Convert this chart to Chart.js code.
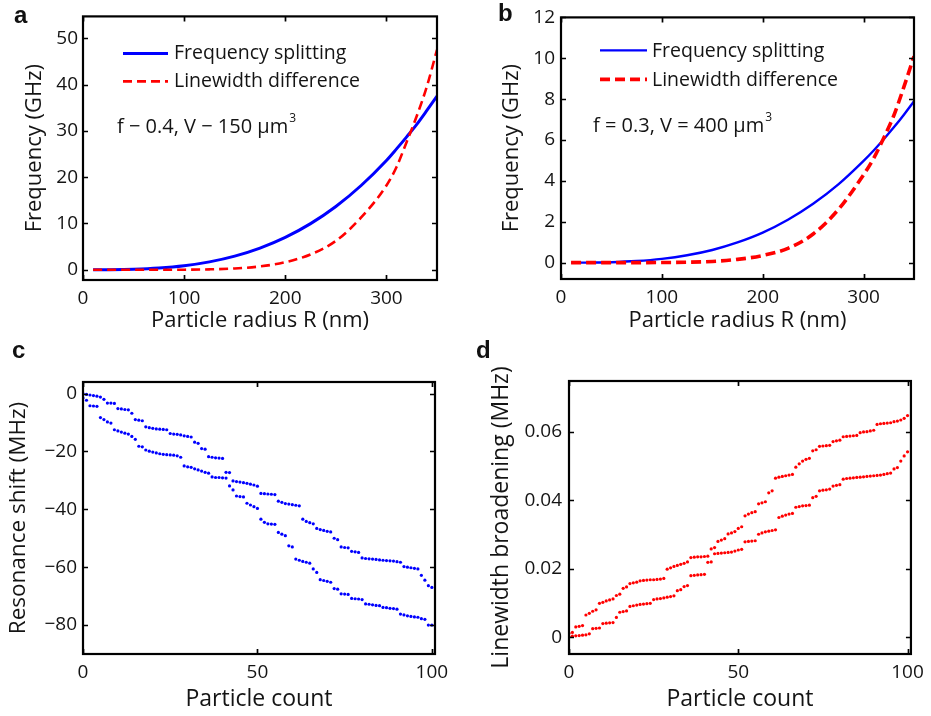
<!DOCTYPE html>
<html>
<head>
<meta charset="utf-8">
<script src="https://cdn.jsdelivr.net/npm/chart.js@4.4.1/dist/chart.umd.min.js"></script>
<style>
  html, body { margin: 0; padding: 0; background: #fff; }
  #wrap { position: relative; width: 931px; height: 716px; overflow: hidden; }
  canvas { position: absolute; }
  .lbl { position: absolute; font-family: "Liberation Sans", Arial, sans-serif; font-weight: bold; font-size: 24px; color: #111; line-height: 1; }
</style>
</head>
<body>
<div id="wrap">
  <canvas id="ca" width="465" height="345" style="left:0;top:0;width:465px;height:345px"></canvas>
  <canvas id="cb" width="466" height="345" style="left:465px;top:0;width:466px;height:345px"></canvas>
  <canvas id="cc" width="465" height="371" style="left:0;top:345px;width:465px;height:371px"></canvas>
  <canvas id="cd" width="466" height="371" style="left:465px;top:345px;width:466px;height:371px"></canvas>
  <div class="lbl" style="left:14px;top:3px">a</div>
  <div class="lbl" style="left:498px;top:1px">b</div>
  <div class="lbl" style="left:12px;top:338px">c</div>
  <div class="lbl" style="left:476px;top:338px">d</div>
</div>
<script>
// ---------- data ----------
const radiusNm = [10, 25, 50, 75, 100, 125, 150, 175, 200, 225, 250, 275, 300, 310, 320, 330, 340, 350];
const splittingA = [0.001, 0.014, 0.11, 0.37, 0.87, 1.71, 2.95, 4.69, 7.0, 9.97, 13.67, 18.2, 23.6, 26.1, 28.7, 31.4, 34.4, 37.5];
const linewidthA = [0, 0, 0, 0.005, 0.026, 0.1, 0.29, 0.73, 1.64, 3.32, 6.24, 11.3, 18.2, 22.2, 27.6, 33.2, 39.6, 47.5];
const splittingB = [0, 0.003, 0.023, 0.078, 0.184, 0.36, 0.62, 0.99, 1.47, 2.10, 2.88, 3.83, 4.98, 5.49, 6.04, 6.62, 7.24, 7.9];
const linewidthB = [0, 0, 0, 0.001, 0.006, 0.02, 0.06, 0.16, 0.35, 0.7, 1.4, 2.6, 4.3, 5.1, 6.1, 7.2, 8.6, 10.1];

const particleCount = Array.from({length: 101}, (_, i) => i);
const shiftUpper = [0, -0.3, -0.5, -0.7, -0.9, -1.2, -2, -3.3, -3.3, -3.4, -5.2, -5.3, -5.5, -5.6, -6.8,
  -9, -9.2, -9.4, -11.5, -11.8, -12, -12.2, -12.3, -12.4, -12.5, -13.8, -14, -14.1, -14.3, -14.6, -14.8, -15,
  -16.8, -17.2, -19, -19.2, -21.8, -22, -22.2, -22.3, -22.4, -27.2, -27.3, -30.2, -30.4, -30.6, -30.8, -31,
  -31.3, -31.6, -32, -34.5, -34.6, -34.7, -34.8, -34.9, -37.2, -37.6, -38, -38.2, -38.4, -38.6, -38.8,
  -43.4, -44.2, -44.6, -45, -46.6, -47, -47.3, -47.6, -47.8, -50, -50.5, -53, -53.2, -53.3, -54.5, -54.7,
  -54.9, -56.8, -57, -57.1, -57.2, -57.3, -57.5, -57.6, -57.7, -57.8, -57.9, -58.1, -58.3, -59.8, -60,
  -60.2, -60.4, -60.6, -62.8, -64.5, -66.4, -67];
const shiftLower = [-1.5, -2.3, -4.2, -4.3, -4.4, -8.3, -9, -9.8, -10.2, -12.5, -12.9, -13.3, -13.7, -14,
  -14.8, -15.8, -18.2, -18.4, -19.5, -19.9, -20.2, -20.5, -20.8, -21, -21.1, -21.2, -21.3, -21.5, -22, -25,
  -25.3, -25.5, -26, -26.4, -26.8, -27.2, -27.5, -28.8, -29, -29, -29.1, -29.2, -31.9, -33.3, -35.4, -35.6,
  -35.7, -37.9, -38.5, -39.1, -39.7, -43.4, -44.5, -45, -45.1, -45.2, -48, -48.6, -49.1, -52.6, -53, -57.2,
  -57.6, -58, -58.3, -58.6, -60.6, -61.8, -64.3, -64.6, -64.9, -65.2, -67.4, -67.6, -69.2, -69.3, -69.4,
  -70.8, -70.9, -71, -71.2, -72.7, -72.8, -73, -73.2, -73.3, -73.9, -74, -74.2, -74.3, -74.5, -76.2, -76.5,
  -76.8, -77, -77.2, -77.3, -77.8, -78, -80, -80];
const broadUpper = [0.0012, 0.0014, 0.003, 0.0032, 0.0034, 0.0065, 0.007, 0.0076, 0.008, 0.0099, 0.0102,
  0.0106, 0.0109, 0.0112, 0.0122, 0.0126, 0.0143, 0.0147, 0.0157, 0.0159, 0.0161, 0.0165, 0.0166, 0.0167,
  0.0168, 0.0168, 0.0169, 0.017, 0.0172, 0.0199, 0.0203, 0.0207, 0.021, 0.0213, 0.0216, 0.022, 0.0233,
  0.0234, 0.0235, 0.0235, 0.0236, 0.0237, 0.0258, 0.0262, 0.028, 0.0284, 0.0288, 0.0302, 0.0305, 0.0309,
  0.0318, 0.0323, 0.0355, 0.036, 0.0364, 0.0367, 0.039, 0.0393, 0.0396, 0.0422, 0.0428, 0.0465, 0.0468,
  0.047, 0.0472, 0.0474, 0.0476, 0.0497, 0.0507, 0.0515, 0.052, 0.0523, 0.0545, 0.0548, 0.0558, 0.0559,
  0.056, 0.0561, 0.0572, 0.0574, 0.0576, 0.0586, 0.0587, 0.0588, 0.0589, 0.059, 0.0598, 0.06, 0.0601,
  0.0603, 0.0605, 0.0622, 0.0624, 0.0625, 0.0626, 0.0627, 0.063, 0.0632, 0.0635, 0.064, 0.0648];
const broadLower = [0.0002, 0.0003, 0.0004, 0.0005, 0.0006, 0.0007, 0.001, 0.0025, 0.0026, 0.0027, 0.004,
  0.0041, 0.0042, 0.0043, 0.0058, 0.0073, 0.0075, 0.0077, 0.009, 0.0092, 0.0094, 0.0096, 0.0097, 0.0098,
  0.0099, 0.011, 0.0112, 0.0113, 0.0115, 0.0117, 0.0119, 0.0121, 0.0136, 0.0139, 0.0148, 0.0151, 0.018,
  0.0181, 0.0182, 0.0183, 0.0184, 0.0219, 0.022, 0.0244, 0.0245, 0.0246, 0.0247, 0.0248, 0.0249, 0.0252,
  0.0255, 0.0257, 0.0279, 0.028, 0.0281, 0.0282, 0.0301, 0.0305, 0.0308, 0.031, 0.0312, 0.0314, 0.035,
  0.0354, 0.0357, 0.036, 0.0362, 0.038, 0.0382, 0.0384, 0.0385, 0.0386, 0.0408, 0.0412, 0.0428, 0.043,
  0.0431, 0.0433, 0.0442, 0.0444, 0.0446, 0.0462, 0.0464, 0.0465, 0.0466, 0.0467, 0.0468, 0.0469, 0.047,
  0.0471, 0.0472, 0.0473, 0.0474, 0.0476, 0.0478, 0.048, 0.0492, 0.0496, 0.0515, 0.053, 0.0542];

const radiusTicks = [0, 100, 200, 300];
const freqTicksA = [0, 10, 20, 30, 40, 50];
const freqTicksB = [0, 2, 4, 6, 8, 10, 12];
const countTicks = [0, 50, 100];
const shiftTicks = [0, -20, -40, -60, -80];
const broadTicks = [0, 0.02, 0.04, 0.06];

// ---------- styling ----------
const FONT = '"Open Sans", "DejaVu Sans", sans-serif';
const TXT = '#141414';
const BLUE = '#0000ff';
const RED = '#ff0000';
Chart.defaults.font.family = FONT;
Chart.defaults.color = TXT;

const pairs = (xs, ys) => xs.map((x, i) => ({x: x, y: ys[i]}));
const fmt = v => String(v).replace('-', '\u2212');

const boxPlugin = {
  id: 'box',
  afterDraw(chart) {
    const {ctx, chartArea: a, scales} = chart;
    const L = 5;
    ctx.save();
    ctx.strokeStyle = '#000';
    ctx.lineWidth = 1.7;
    ctx.beginPath();
    scales.x.ticks.forEach(t => {
      const p = Math.round(scales.x.getPixelForValue(t.value)) + 0.5;
      ctx.moveTo(p, a.bottom); ctx.lineTo(p, a.bottom - L);
      ctx.moveTo(p, a.top); ctx.lineTo(p, a.top + L);
    });
    scales.y.ticks.forEach(t => {
      const p = Math.round(scales.y.getPixelForValue(t.value)) + 0.5;
      ctx.moveTo(a.left, p); ctx.lineTo(a.left + L, p);
      ctx.moveTo(a.right, p); ctx.lineTo(a.right - L, p);
    });
    ctx.stroke();
    ctx.lineWidth = 2.2;
    ctx.strokeRect(a.left, a.top, a.right - a.left, a.bottom - a.top);
    ctx.restore();
  }
};

const innerLegend = {
  id: 'innerLegend',
  afterDraw(chart, args, o) {
    if (!o || !o.show) return;
    const {ctx, chartArea: a} = chart;
    ctx.save();
    ctx.font = o.fontSize + 'px ' + FONT;
    ctx.textBaseline = 'middle';
    ctx.textAlign = 'left';
    chart.data.datasets.forEach((ds, i) => {
      const y = a.top + o.rows[i];
      const x0 = a.left + o.x;
      ctx.strokeStyle = ds.borderColor;
      ctx.lineWidth = ds.borderWidth;
      ctx.setLineDash(ds.borderDash || []);
      ctx.beginPath();
      ctx.moveTo(x0, y); ctx.lineTo(x0 + o.len, y);
      ctx.stroke();
      ctx.setLineDash([]);
      ctx.fillStyle = TXT;
      ctx.fillText(ds.label, x0 + o.len + o.gap, y + o.textDy);
    });
    if (o.note) {
      ctx.font = o.note.size + 'px ' + FONT;
      const nx = a.left + o.note.x, ny = a.top + o.note.y;
      ctx.fillText(o.note.text, nx, ny);
      const w = ctx.measureText(o.note.text).width;
      ctx.font = Math.round(o.note.size * 0.62) + 'px ' + FONT;
      ctx.fillText(o.note.sup, nx + w + 1, ny - o.note.size * 0.45);
    }
    ctx.restore();
  }
};

function axis(cfg) {
  return {
    type: 'linear',
    min: cfg.min, max: cfg.max,
    grid: {display: false, drawTicks: false},
    border: {display: false},
    ticks: {
      padding: cfg.tickPad, color: TXT, autoSkip: false, maxRotation: 0,
      font: {size: 19}, callback: v => fmt(v)
    },
    afterBuildTicks: s => { s.ticks = cfg.ticks.map(v => ({value: v})); },
    afterFit: s => { if (cfg.horizontal) s.height = cfg.size; else s.width = cfg.size; },
    title: {
      display: true, text: cfg.title, color: TXT, font: {size: cfg.titleSize},
      padding: cfg.horizontal ? {top: 0, bottom: cfg.titlePad} : {top: cfg.titlePad, bottom: 0}
    }
  };
}

function curvePanel(id, pad, xAx, yAx, dsets, legend) {
  return new Chart(document.getElementById(id), {
    type: 'scatter',
    data: {datasets: dsets},
    options: {
      responsive: false, animation: false, devicePixelRatio: 1,
      layout: {padding: pad},
      scales: {x: axis(xAx), y: axis(yAx)},
      plugins: {legend: {display: false}, tooltip: {enabled: false}, innerLegend: legend}
    },
    plugins: [boxPlugin, innerLegend]
  });
}

// Panel a
curvePanel('ca', {left: 0, top: 16, right: 28, bottom: 0},
  {horizontal: true, min: 0, max: 350, ticks: radiusTicks, size: 65, tickPad: 7, title: 'Particle radius R (nm)', titleSize: 22, titlePad: 10.8},
  {min: -2.2, max: 54.7, ticks: freqTicksA, size: 83, tickPad: 5, title: 'Frequency (GHz)', titleSize: 22, titlePad: 21.8},
  [
    {label: 'Frequency splitting', data: pairs(radiusNm, splittingA), showLine: true, pointRadius: 0,
     borderColor: BLUE, borderWidth: 3, cubicInterpolationMode: 'monotone', order: 1},
    {label: 'Linewidth difference', data: pairs(radiusNm, linewidthA), showLine: true, pointRadius: 0,
     borderColor: RED, borderWidth: 2.6, borderDash: [9, 5], cubicInterpolationMode: 'monotone', order: 0}
  ],
  {show: true, x: 40, rows: [37, 65], len: 45, gap: 6, textDy: 0, fontSize: 19.5,
   note: {x: 34, y: 111, size: 20, text: 'f \u2212 0.4, V \u2212 150 \u03bcm', sup: '3'}}
);

// Panel b
curvePanel('cb', {left: 0, top: 16, right: 17, bottom: 0},
  {horizontal: true, min: 0, max: 350, ticks: radiusTicks, size: 66, tickPad: 7, title: 'Particle radius R (nm)', titleSize: 22, titlePad: 10.8},
  {min: -0.8, max: 12, ticks: freqTicksB, size: 96, tickPad: 6, title: 'Frequency (GHz)', titleSize: 22, titlePad: 33.8},
  [
    {label: 'Frequency splitting', data: pairs(radiusNm, splittingB), showLine: true, pointRadius: 0,
     borderColor: BLUE, borderWidth: 2.4, cubicInterpolationMode: 'monotone', order: 1},
    {label: 'Linewidth difference', data: pairs(radiusNm, linewidthB), showLine: true, pointRadius: 0,
     borderColor: RED, borderWidth: 3.6, borderDash: [10, 5], cubicInterpolationMode: 'monotone', order: 0}
  ],
  {show: true, x: 39, rows: [33, 62], len: 47, gap: 5, textDy: 1, fontSize: 19.5,
   note: {x: 32, y: 109, size: 20, text: 'f = 0.3, V = 400 \u03bcm', sup: '3'}}
);

// Panel c
curvePanel('cc', {left: 0, top: 37, right: 30, bottom: 0},
  {horizontal: true, min: 0, max: 100.9, ticks: countTicks, size: 62, tickPad: 7, title: 'Particle count', titleSize: 23, titlePad: 3.2},
  {min: -90, max: 4, ticks: shiftTicks, size: 83, tickPad: 6, title: 'Resonance shift (MHz)', titleSize: 22.5, titlePad: 5.5},
  [
    {label: 'upper', data: pairs(particleCount, shiftUpper), pointRadius: 1.6, pointBorderWidth: 0,
     backgroundColor: BLUE, borderColor: BLUE},
    {label: 'lower', data: pairs(particleCount, shiftLower), pointRadius: 1.6, pointBorderWidth: 0,
     backgroundColor: BLUE, borderColor: BLUE}
  ],
  {show: false}
);

// Panel d
curvePanel('cd', {left: 0, top: 36, right: 15, bottom: 0},
  {horizontal: true, min: 0, max: 101, ticks: countTicks, size: 62, tickPad: 7, title: 'Particle count', titleSize: 23, titlePad: 3.2},
  {min: -0.0049, max: 0.0749, ticks: broadTicks, size: 104, tickPad: 7, title: 'Linewidth broadening (MHz)', titleSize: 23, titlePad: 22.2},
  [
    {label: 'upper', data: pairs(particleCount, broadUpper), pointRadius: 1.6, pointBorderWidth: 0,
     backgroundColor: RED, borderColor: RED},
    {label: 'lower', data: pairs(particleCount, broadLower), pointRadius: 1.6, pointBorderWidth: 0,
     backgroundColor: RED, borderColor: RED}
  ],
  {show: false}
);
</script>
</body>
</html>
